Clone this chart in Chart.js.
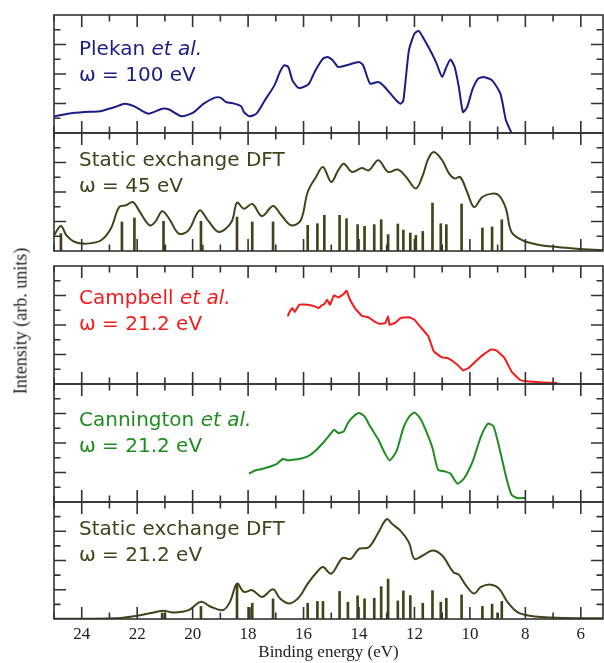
<!DOCTYPE html>
<html>
<head>
<meta charset="utf-8">
<script src="https://cdn.jsdelivr.net/npm/chart.js@4.4.0/dist/chart.umd.min.js"></script>
<style>
  body { margin: 0; background: #fff; width: 604px; height: 663px; overflow: hidden; position: relative; font-family: "DejaVu Sans", sans-serif; }
  canvas { position: absolute; left: 0; }
  .lbl { position: absolute; left: 79px; font-size: 20px; line-height: 26px; white-space: nowrap; }
  .lbl i { font-style: oblique; }
  #ytitle { position: absolute; left: 21px; top: 321px; font-family: "Liberation Serif", serif; font-size: 18px; color: #222;
            white-space: nowrap; transform: translate(-50%, -50%) rotate(-90deg); }
</style>
</head>
<body>
<canvas id="p1" width="604" height="124" style="top:12px"></canvas>
<canvas id="p2" width="604" height="124" style="top:130px"></canvas>
<canvas id="p3" width="604" height="124" style="top:263px"></canvas>
<canvas id="p4" width="604" height="124" style="top:381px"></canvas>
<canvas id="p5" width="604" height="164" style="top:499px"></canvas>

<div class="lbl" style="top:35px;color:#1c1c86">Plekan <i>et al.</i><br>ω = 100 eV</div>
<div class="lbl" style="top:146px;color:#43431a">Static exchange DFT<br>ω = 45 eV</div>
<div class="lbl" style="top:284px;color:#f21c1c">Campbell <i>et al.</i><br>ω = 21.2 eV</div>
<div class="lbl" style="top:406px;color:#1e8c1e">Cannington <i>et al.</i><br>ω = 21.2 eV</div>
<div class="lbl" style="top:515px;color:#43431a">Static exchange DFT<br>ω = 21.2 eV</div>
<div id="ytitle">Intensity (arb. units)</div>

<script>
// binding energies (eV) and intensities (arb. units, 0..8 per panel)
const plekanE = [25.0, 24.5, 23.9, 23.35, 22.8, 22.45, 22.1, 21.6, 21.1, 20.85, 20.4, 20.0, 19.6, 19.2, 19.0, 18.8, 18.5, 18.25, 18.15, 17.95,
  17.7, 17.4, 17.05, 16.85, 16.7, 16.55, 16.4, 16.2, 16.0, 15.8, 15.6, 15.3, 15.13, 14.95, 14.75, 14.45, 14.0, 13.85, 13.6, 13.3,
  13.1, 12.65, 12.5, 12.4, 12.2, 12.0, 11.85, 11.7, 11.4, 11.2, 11.0, 10.85, 10.7, 10.55, 10.4, 10.25, 10.1, 9.9, 9.7, 9.5,
  9.2, 8.9, 8.7, 8.5];
const plekanI = [1.13, 1.31, 1.42, 1.47, 1.76, 1.99, 1.81, 1.31, 1.65, 1.59, 1.13, 1.36, 1.99, 2.4, 2.4, 2.1, 1.99, 1.81, 1.42, 1.13,
  1.31, 2.2, 3.23, 4.14, 4.59, 4.47, 3.57, 3.08, 3.12, 3.35, 4.14, 5.04, 5.15, 4.93, 4.47, 4.59, 4.81, 4.59, 3.35, 3.46,
  3.17, 2.2, 1.99, 2.2, 5.6, 6.74, 6.92, 6.51, 5.49, 4.7, 3.8, 4.47, 4.98, 4.47, 3.12, 1.42, 1.76, 3.0, 3.69, 3.8,
  3.57, 2.67, 0.86, 0];

const dft45E = [25.0, 24.75, 24.55, 24.25, 23.8, 23.3, 22.95, 22.65, 22.4, 22.15, 21.9, 21.55, 21.35, 21.1, 20.85, 20.5, 20.15, 19.75, 19.45, 19.05,
  18.6, 18.4, 18.15, 17.85, 17.5, 17.1, 16.8, 16.45, 16.1, 15.85, 15.55, 15.3, 15.0, 14.75, 14.55, 14.25, 13.9, 13.65, 13.3, 12.95,
  12.6, 12.3, 11.95, 11.7, 11.5, 11.3, 11.0, 10.75, 10.55, 10.35, 10.1, 9.85, 9.55, 9.2, 8.95, 8.7, 8.5, 8.1, 7.55, 6.85,
  6.15, 5.2];
const dft45I = [1.06, 1.7, 1.06, 0.61, 0.5, 0.73, 1.52, 2.98, 3.1, 3.32, 2.64, 1.74, 1.97, 2.69, 2.2, 1.18, 1.4, 2.76, 2.08, 1.29,
  1.97, 3.28, 2.87, 3.19, 2.37, 3.05, 2.42, 1.74, 2.08, 4.0, 5.02, 5.69, 4.68, 5.47, 5.92, 5.36, 5.63, 5.47, 6.15, 5.36,
  5.52, 5.02, 4.23, 5.13, 6.26, 6.71, 6.15, 5.25, 4.91, 5.02, 4.0, 2.98, 3.66, 3.89, 3.77, 2.87, 1.29, 0.72, 0.43, 0.27,
  0.16, 0.05];
const dft45StickE = [24.75, 22.55, 22.1, 21.05, 21.0, 19.7, 19.65, 18.4, 17.85, 17.1, 15.85, 15.5, 15.25, 14.7, 14.45, 14.05, 13.8, 13.45, 13.2, 12.95,
  12.6, 12.4, 12.15, 11.95, 11.7, 11.35, 11.05, 10.85, 10.3, 9.55, 9.2, 8.85];
const dft45StickI = [1.18, 1.97, 2.24, 2.01, 0.38, 2.01, 0.4, 2.3, 1.97, 1.97, 1.74, 1.85, 2.42, 2.42, 2.19, 1.79, 1.67, 1.79, 2.12, 1.11,
  1.83, 1.42, 1.22, 1.06, 1.33, 3.25, 1.85, 1.79, 3.19, 1.56, 1.63, 2.12];

const campbellE = [16.57, 16.5, 16.4, 16.32, 16.15, 15.85, 15.6, 15.45, 15.35, 15.25, 15.15, 15.05, 14.9, 14.75, 14.55, 14.45, 14.35, 14.15, 13.9, 13.65,
  13.45, 13.25, 13.05, 12.95, 12.9, 12.7, 12.5, 12.2, 12.0, 11.8, 11.5, 11.3, 11.0, 10.8, 10.45, 10.25, 10.05, 9.6, 9.25, 9.05,
  8.75, 8.5, 8.2, 7.95, 7.4, 6.85];
const campbellI = [4.58, 4.92, 5.15, 4.88, 5.38, 5.38, 5.26, 5.15, 5.33, 5.42, 5.72, 5.38, 6.01, 5.87, 6.1, 6.33, 5.83, 5.15, 4.63, 4.52,
  4.24, 4.07, 4.14, 4.58, 4.02, 4.14, 4.47, 4.52, 4.36, 3.91, 3.23, 2.21, 1.8, 1.76, 1.31, 0.92, 1.08, 1.87, 2.33, 2.28,
  1.76, 0.85, 0.29, 0.18, 0.11, 0.07];

const canningtonE = [17.97, 17.75, 17.5, 17.25, 16.95, 16.75, 16.55, 16.4, 16.15, 15.85, 15.6, 15.3, 15.0, 14.9, 14.75, 14.55, 14.4, 14.2, 14.0, 13.8,
  13.6, 13.3, 13.1, 12.9, 12.65, 12.4, 12.2, 12.0, 11.8, 11.6, 11.35, 11.15, 10.9, 10.7, 10.45, 10.2, 9.9, 9.6, 9.35, 9.15,
  8.95, 8.7, 8.5, 8.3, 8.0];
const canningtonI = [1.92, 2.14, 2.24, 2.37, 2.6, 2.92, 2.82, 2.87, 2.92, 3.09, 3.43, 4.0, 4.68, 4.9, 4.68, 4.79, 5.36, 5.8, 6.03, 5.8,
  5.13, 4.22, 3.43, 2.82, 3.43, 5.02, 5.76, 6.07, 5.69, 4.9, 3.66, 2.19, 2.07, 1.92, 1.24, 1.63, 2.75, 4.45, 5.31, 5.13,
  3.77, 1.74, 0.49, 0.27, 0.27];

const dft21E = [25.0, 22.8, 22.0, 21.4, 21.05, 20.7, 20.15, 19.7, 19.35, 18.9, 18.65, 18.4, 18.15, 17.85, 17.5, 17.1, 16.85, 16.5, 16.15, 15.85,
  15.5, 15.3, 15.0, 14.6, 14.3, 14.0, 13.65, 13.3, 13.0, 12.8, 12.5, 12.2, 12.0, 11.7, 11.35, 11.0, 10.6, 10.4, 10.15, 9.85,
  9.6, 9.25, 8.95, 8.65, 8.3, 7.85, 6.85, 5.2];
const dft21I = [0.02, 0.05, 0.23, 0.45, 0.56, 0.45, 0.61, 1.18, 0.84, 0.61, 1.18, 2.42, 1.85, 1.97, 1.51, 2.03, 1.4, 1.06, 1.51, 2.42,
  3.25, 3.55, 3.1, 4.16, 4.11, 4.79, 4.9, 5.92, 6.83, 6.49, 6.03, 5.24, 4.11, 4.34, 4.68, 4.34, 3.21, 3.03, 2.31, 1.74,
  2.19, 2.35, 2.08, 1.18, 0.49, 0.23, 0.09, 0.05];
const dft21StickE = [21.1, 21.0, 19.7, 18.4, 17.95, 17.85, 17.1, 15.85, 15.5, 15.3, 14.7, 14.4, 14.05, 13.8, 13.45, 13.2, 12.95, 12.6, 12.4, 12.15,
  11.7, 11.35, 11.05, 10.85, 10.3, 9.55, 9.2, 9.0, 8.85];
const dft21StickI = [0.41, 0.41, 0.86, 2.37, 0.79, 1.08, 1.38, 1.08, 1.2, 1.2, 1.88, 1.15, 1.58, 1.38, 1.42, 2.21, 2.73, 1.24, 1.92, 1.6,
  1.08, 1.94, 1.15, 1.42, 1.65, 0.86, 1.02, 0.4, 1.2];

const xTicks = [24, 22, 20, 18, 16, 14, 12, 10, 8, 6];

const navy = '#1c1c86', olive = '#43431a', red = '#f21c1c', green = '#1e8c1e';

const pts = (e, v) => e.map((x, i) => ({ x: x, y: v[i] }));

function curve(e, v, color, tension) {
  return { type: 'line', data: pts(e, v), borderColor: color, borderWidth: 2, pointRadius: 0, order: 1, tension: tension };
}
function sticks(e, v, color) {
  return { type: 'bar', data: pts(e, v), backgroundColor: color, barThickness: 2, order: 2 };
}

// box with inward ticks on all four sides
const framePlugin = {
  id: 'frame',
  afterDraw(chart) {
    const { ctx, chartArea: a } = chart;
    const x = chart.scales.x, y = chart.scales.y;
    ctx.save();
    ctx.strokeStyle = '#333';
    ctx.lineWidth = 1.6;
    ctx.beginPath();
    for (let v = Math.ceil(x.min); v <= x.max; v++) {
      const px = x.getPixelForValue(v), len = v % 2 === 0 ? 12 : 6.5;
      ctx.moveTo(px, a.top); ctx.lineTo(px, a.top + len);
      ctx.moveTo(px, a.bottom); ctx.lineTo(px, a.bottom - len);
    }
    for (let v = 1; v < 8; v++) {
      const py = y.getPixelForValue(v), len = v % 2 === 0 ? 12 : 6.5;
      ctx.moveTo(a.left, py); ctx.lineTo(a.left + len, py);
      ctx.moveTo(a.right, py); ctx.lineTo(a.right - len, py);
    }
    ctx.stroke();
    ctx.strokeRect(a.left, a.top, a.right - a.left, a.bottom - a.top);
    ctx.restore();
  }
};

function panel(id, datasets, withAxis) {
  const serif = { family: 'Liberation Serif', size: 17 };
  return new Chart(document.getElementById(id), {
    type: 'line',
    data: { datasets: datasets },
    options: {
      responsive: false,
      animation: false,
      layout: { padding: { left: 54, right: 1, top: 3, bottom: withAxis ? 0 : 3 } },
      plugins: { legend: { display: false }, tooltip: { enabled: false } },
      scales: {
        x: {
          type: 'linear', reverse: true, min: 5.2, max: 25, offset: false,
          display: withAxis,
          grid: { display: false, drawTicks: false, offset: false },
          border: { display: false },
          afterBuildTicks: s => { s.ticks = xTicks.map(v => ({ value: v })); },
          afterFit: s => { if (withAxis) s.height = 44; },
          ticks: { font: serif, color: '#222', padding: 5, maxRotation: 0, autoSkip: false },
          title: { display: true, text: 'Binding energy (eV)', font: serif, color: '#222', padding: { top: 0, bottom: 0 } }
        },
        y: { type: 'linear', min: 0, max: 8, display: false }
      }
    },
    plugins: [framePlugin]
  });
}

panel('p1', [curve(plekanE, plekanI, navy, 0.2)], false);
panel('p2', [curve(dft45E, dft45I, olive, 0.35), sticks(dft45StickE, dft45StickI, olive)], false);
panel('p3', [curve(campbellE, campbellI, red, 0.1)], false);
panel('p4', [curve(canningtonE, canningtonI, green, 0.2)], false);
panel('p5', [curve(dft21E, dft21I, olive, 0.35), sticks(dft21StickE, dft21StickI, olive)], true);
</script>
</body>
</html>
